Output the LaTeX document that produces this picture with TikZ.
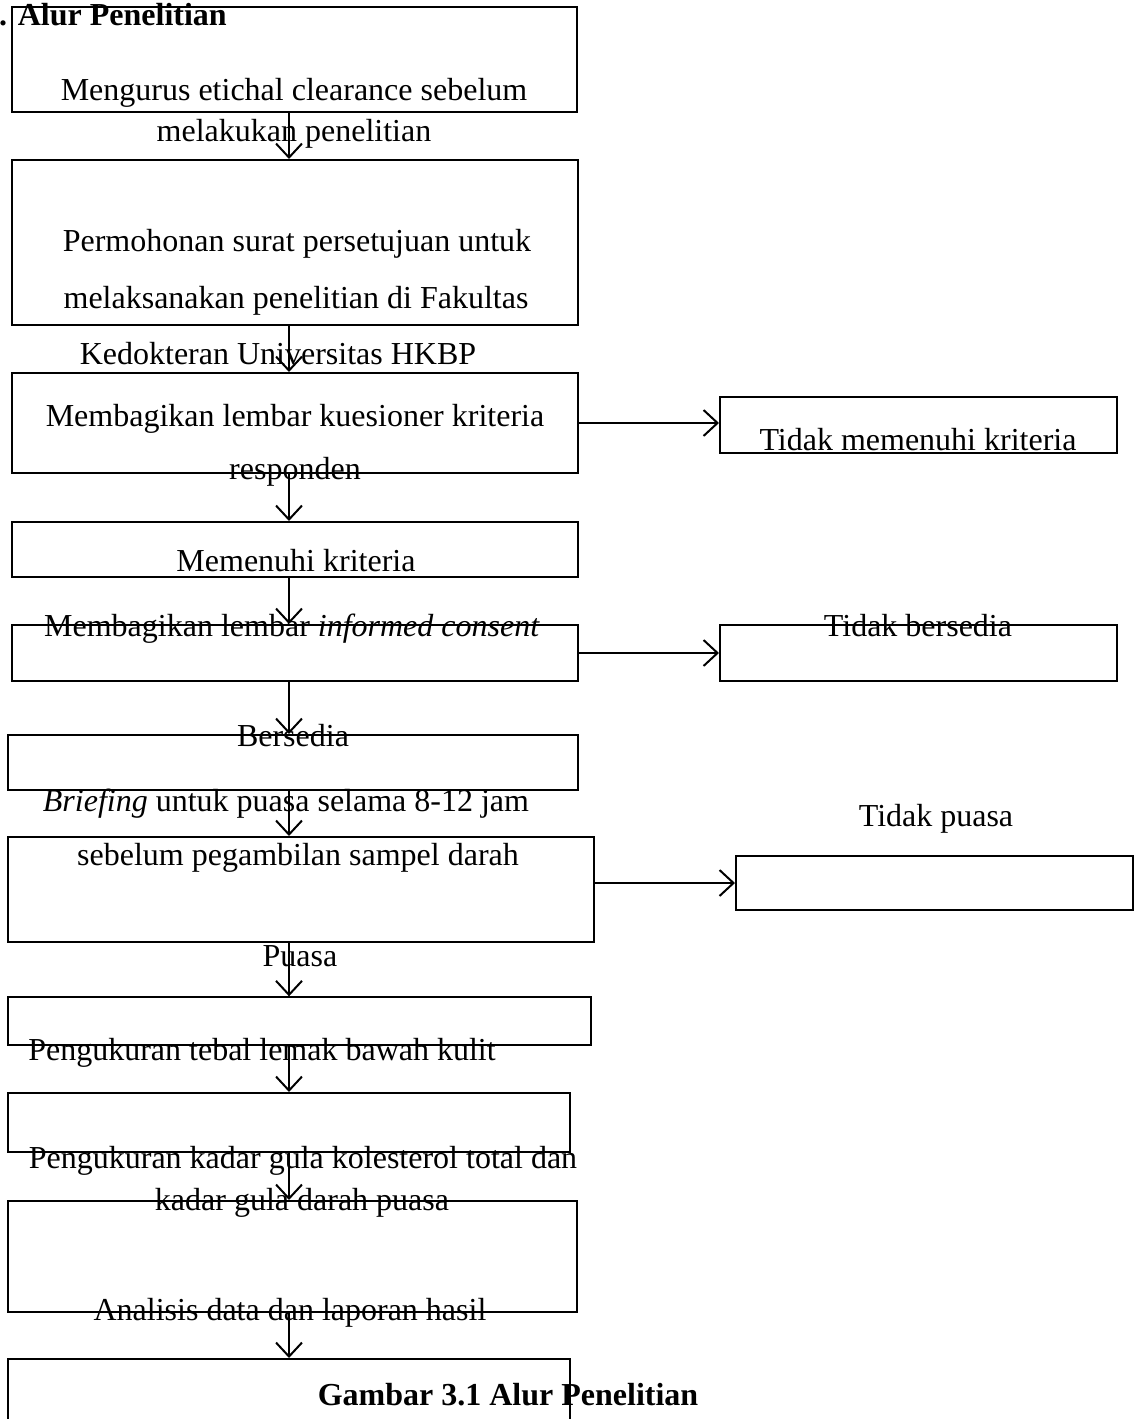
\documentclass[tikz,border=0pt]{standalone}
\usepackage{fontspec}
\setmainfont{Liberation Serif}
\usetikzlibrary{fit,arrows.meta}
\begin{document}
\begin{tikzpicture}[x=1pt,y=-1pt,
  box/.style={draw, line width=2pt, inner sep=0pt},
  thinbox/.style={draw, line width=1.4pt, inner sep=0pt},
  txt/.style={inner sep=0pt, anchor=base, font=\fontsize{32}{38}\selectfont},
  btxt/.style={inner sep=0pt, anchor=base, font=\fontsize{32}{38}\selectfont\bfseries},
  arr/.style={line width=2pt, -{Straight Barb[length=14pt,width=26pt]}}]
\useasboundingbox (0,0) rectangle (1141,1419);
\clip (0,0) rectangle (1141,1419);
% axis for vertical arrows
\coordinate (ax) at (289,0);
% boxes
\node[box, fit={(12,7) (577,112)}] (b1) {};
\node[box, fit={(12,160) (578,325)}] (b2) {};
\node[box, fit={(12,373) (578,473)}] (b3) {};
\node[box, fit={(720,397) (1117,453)}] (r1) {};
\node[box, fit={(12,522) (578,577)}] (b4) {};
\node[box, fit={(12,625) (578,681)}] (b5) {};
\node[box, fit={(720,625) (1117,681)}] (r2) {};
\node[box, fit={(8,735) (578,790)}] (b6) {};
\node[box, fit={(8,837) (594,942)}] (b7) {};
\node[box, fit={(736,856) (1133,910)}] (r3) {};
\node[thinbox, fit={(8,997) (591,1045)}] (b8) {};
\node[box, fit={(8,1093) (570,1152)}] (b9) {};
\node[box, fit={(8,1201) (577,1312)}] (b10) {};
\node[box, fit={(8,1359) (570,1440)}] (b11) {};
% texts
\node[btxt, anchor=base west] (title) at (-1,25) {. Alur Penelitian};
\node[txt] (l1a) at (294,100) {Mengurus etichal clearance sebelum};
\node[txt] (l1b) at (294,141) {melakukan penelitian};
\node[txt] (l2a) at (297,251) {Permohonan surat persetujuan untuk};
\node[txt] (l2b) at (296,308) {melaksanakan penelitian di Fakultas};
\node[txt] (l2c) at (278,364) {Kedokteran Universitas HKBP};
\node[txt] (l3a) at (295,426) {Membagikan lembar kuesioner kriteria};
\node[txt] (l3b) at (295,479) {responden};
\node[txt] (lr1) at (918,450) {Tidak memenuhi kriteria};
\node[txt] (l4) at (296,571) {Memenuhi kriteria};
\node[txt] (l5) at (292,636) {Membagikan lembar \textit{informed consent}};
\node[txt] (lr2) at (918,636) {Tidak bersedia};
\node[txt] (l6) at (293,746) {Bersedia};
\node[txt] (l7a) at (286,811) {\textit{Briefing} untuk puasa selama 8-12 jam};
\node[txt] (l7b) at (298,865) {sebelum pegambilan sampel darah};
\node[txt] (lr3) at (936,826) {Tidak puasa};
\node[txt] (l8a) at (300,966) {Puasa};
\node[txt] (l8b) at (262,1060) {Pengukuran tebal lemak bawah kulit};
\node[txt] (l9a) at (303,1168) {Pengukuran kadar gula kolesterol total dan};
\node[txt] (l9b) at (302,1210) {kadar gula darah puasa};
\node[txt] (l10) at (290,1320) {Analisis data dan laporan hasil};
\node[btxt] (cap) at (508,1405) {Gambar 3.1 Alur Penelitian};
% vertical arrows
\draw[arr] (b1.south -| ax) -- (b2.north -| ax);
\draw[arr] (b2.south -| ax) -- (b3.north -| ax);
\draw[arr] (b3.south -| ax) -- (b4.north -| ax);
\draw[arr] (b4.south -| ax) -- (b5.north -| ax);
\draw[arr] (b5.south -| ax) -- (b6.north -| ax);
\draw[arr] (b6.south -| ax) -- (b7.north -| ax);
\draw[arr] (b7.south -| ax) -- (b8.north -| ax);
\draw[arr] (b8.south -| ax) -- (b9.north -| ax);
\draw[arr] (b9.south -| ax) -- (b10.north -| ax);
\draw[arr] (b10.south -| ax) -- (b11.north -| ax);
% horizontal arrows
\draw[arr] (b3.east) -- (b3.east -| r1.west);
\draw[arr] (b5.east |- r2.west) -- (r2.west);
\draw[arr] (b7.east |- r3.west) -- (r3.west);
\end{tikzpicture}
\end{document}
